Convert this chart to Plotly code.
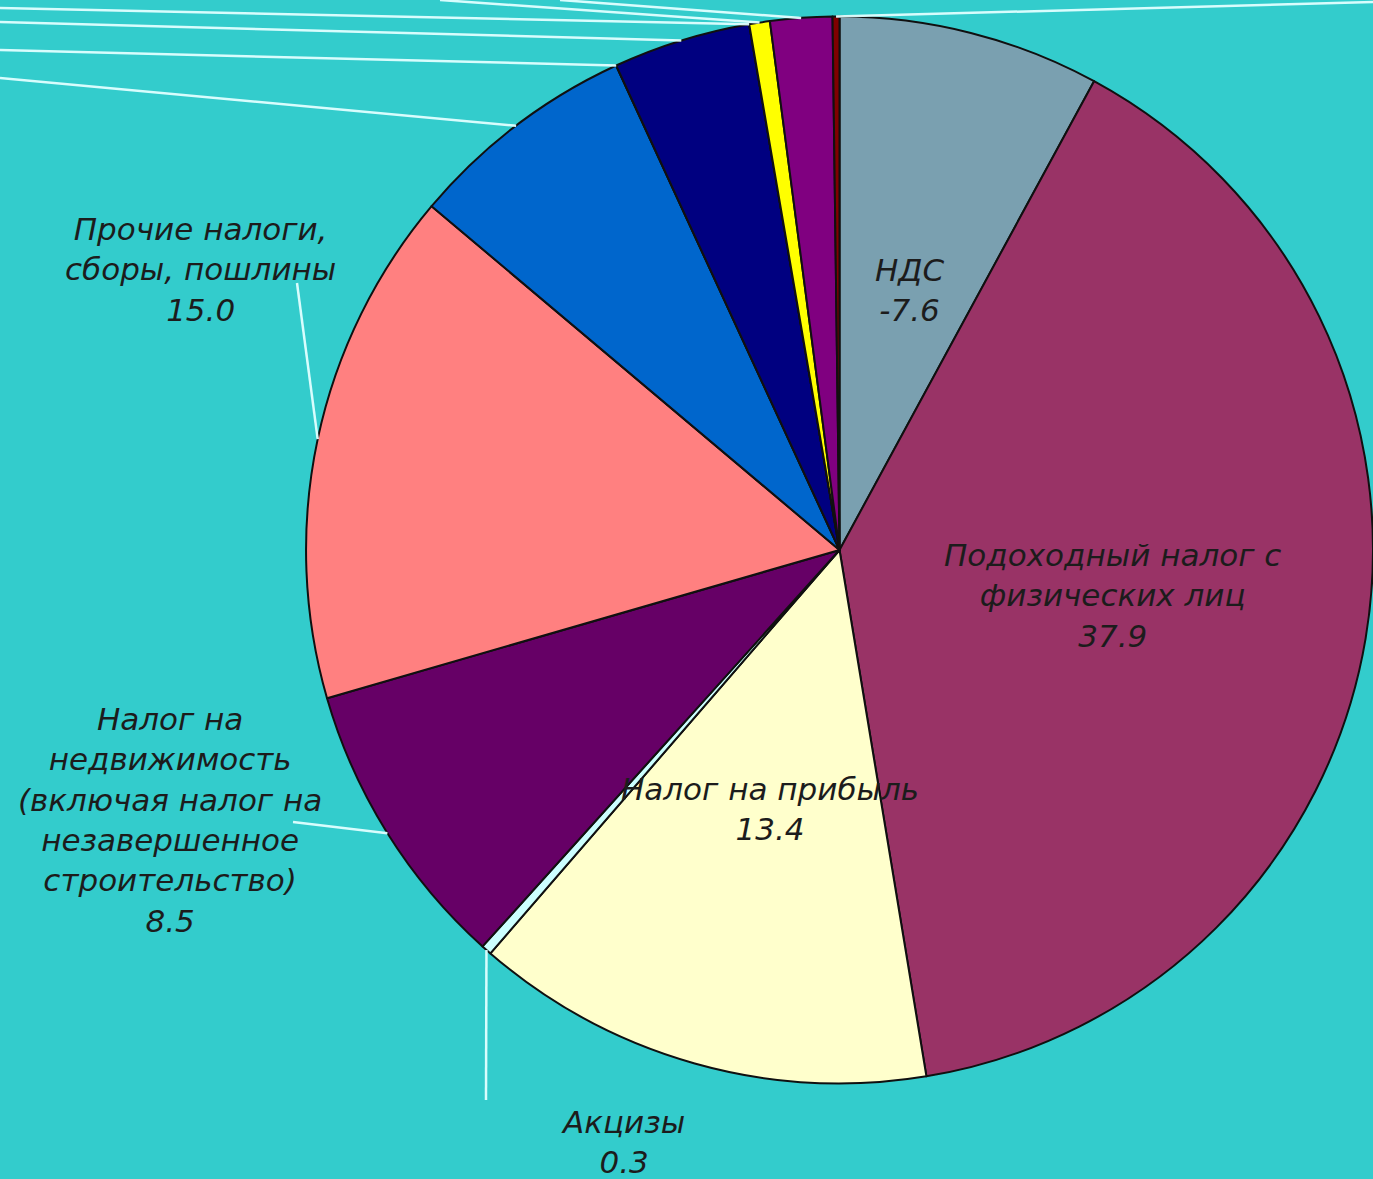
import math
import plotly.graph_objects as go

W, H = 1373, 1179

# Tax revenue structure (slices drawn clockwise from 12 o'clock)
labels = [
    "НДС",
    "Подоходный налог с физических лиц",
    "Налог на прибыль",
    "Акцизы",
    "Налог на недвижимость (включая налог на незавершенное строительство)",
    "Прочие налоги, сборы, пошлины",
    "Статья 7",
    "Статья 8",
    "Статья 9",
    "Статья 10",
    "Статья 11",
    "Статья 12",
    "Статья 13",
]
values = [-7.6, 37.9, 13.4, 0.3, 8.5, 15.0, 6.7, 0.0, 4.0, 0.0, 0.6, 1.8, 0.2]
colors = [
    "#7AA0B0", "#993366", "#FFFFCC", "#CCFFFF", "#660066", "#FF8080",
    "#0066CC", "#CCCCFF", "#000080", "#FF00FF", "#FFFF00", "#800080", "#800000",
]
# Label text shown next to each slice (None = label lies outside the visible page)
label_lines = [
    "НДС",
    "Подоходный налог с<br>физических лиц",
    "Налог на прибыль",
    "Акцизы",
    "Налог на<br>недвижимость<br>(включая налог на<br>незавершенное<br>строительство)",
    "Прочие налоги,<br>сборы, пошлины",
    None, None, None, None, None, None, None,
]

# Layout: text block centres and leader-line ends, in page pixels
label_pos = {
    0: (910, 290),
    1: (1112, 595),
    2: (770, 809),
    3: (623, 1142),
    4: (170, 820),
    5: (200, 269),
}
leader_end = {
    3: (486, 1100),
    4: (293, 822),
    5: (297, 283),
    6: (0, 78),
    7: (0, 50),
    8: (0, 22),
    9: (0, 8),
    10: (440, 0),
    11: (560, 0),
    12: (1373, 2),
}

BG = "#33CCCC"
TEXT = "#1c1c1c"
LEADER = "rgba(225,255,255,0.95)"
FONT = "DejaVu Sans, Verdana, sans-serif"

dom_x = [0.2229, 1.0]
dom_y = [0.08, 0.987]

sizes = [abs(v) for v in values]
total = sum(sizes)

# Pie geometry as plotly lays it out (zero margins)
cx = W * (dom_x[0] + dom_x[1]) / 2
cy = H * (1 - dom_y[0]) - H * (dom_y[1] - dom_y[0]) / 2
R = min(W * (dom_x[1] - dom_x[0]), H * (dom_y[1] - dom_y[0])) / 2


def px(x):
    return x / W


def py(y):
    return 1 - y / H


def arc_point(angle_deg, r=R):
    a = math.radians(angle_deg)
    return cx + r * math.sin(a), cy - r * math.cos(a)


fig = go.Figure(
    go.Pie(
        labels=labels,
        values=sizes,
        sort=False,
        direction="clockwise",
        rotation=0,
        textinfo="none",
        hoverinfo="label+text",
        text=[f"{v:.1f}" for v in values],
        marker=dict(colors=colors, line=dict(color="#101010", width=2)),
        domain=dict(x=dom_x, y=dom_y),
        showlegend=False,
    )
)

shapes = []
annotations = []
cum = 0.0
for i, s in enumerate(sizes):
    mid = (cum + s / 2) / total * 360
    cum += s
    if i in leader_end:
        x0, y0 = arc_point(mid)
        x1, y1 = leader_end[i]
        shapes.append(dict(
            type="line", xref="paper", yref="paper",
            x0=px(x0), y0=py(y0), x1=px(x1), y1=py(y1),
            line=dict(color=LEADER, width=2.5),
        ))
    if label_lines[i] is not None:
        lx, ly = label_pos[i]
        annotations.append(dict(
            xref="paper", yref="paper", x=px(lx), y=py(ly),
            xanchor="center", yanchor="middle", showarrow=False,
            align="center",
            text=f"<i>{label_lines[i]}<br>{values[i]:.1f}</i>",
            font=dict(family=FONT, size=31, color=TEXT),
        ))

fig.update_layout(
    width=W, height=H,
    margin=dict(l=0, r=0, t=0, b=0),
    paper_bgcolor=BG,
    plot_bgcolor=BG,
    shapes=shapes,
    annotations=annotations,
)

fig.write_html("out.html")
